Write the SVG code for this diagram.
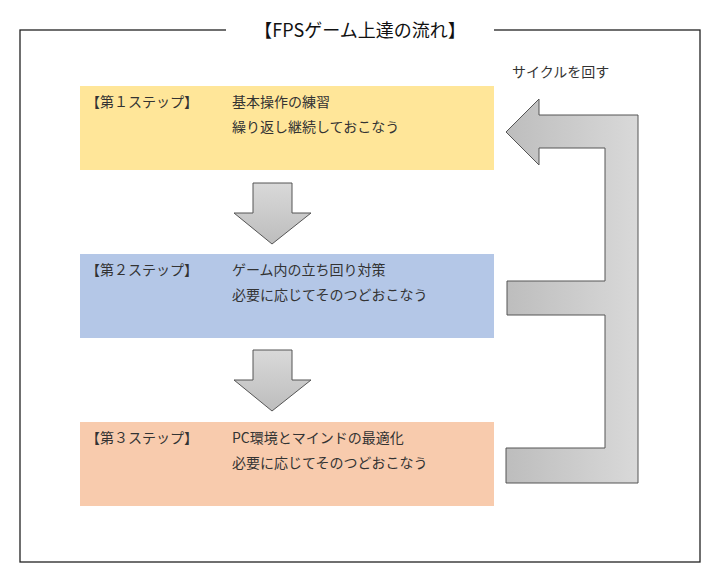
<svg xmlns="http://www.w3.org/2000/svg" width="720" height="580" viewBox="0 0 720 580">
<defs>
<linearGradient id="gv" x1="0" y1="0" x2="0" y2="1"><stop offset="0" stop-color="#d9d9d9"/><stop offset="1" stop-color="#bdbdbd"/></linearGradient>
<linearGradient id="gh" x1="0" y1="0" x2="1" y2="0"><stop offset="0" stop-color="#bdbdbd"/><stop offset="1" stop-color="#d9d9d9"/></linearGradient>
<style>
text{font-family:"Noto Sans CJK JP","Liberation Sans",sans-serif;fill:#333;font-size:14px}
.ar{fill:url(#gv);stroke:#555;stroke-width:1}
</style>
</defs>
<rect width="720" height="580" fill="#fff"/>
<rect x="20" y="30" width="680" height="532" fill="none" stroke="#222" stroke-width="1.3"/>
<rect x="226" y="20" width="268" height="22" fill="#fff"/>
<text x="360" y="37" text-anchor="middle" style="font-size:18px;fill:#111">【FPSゲーム上達の流れ】</text>
<g id="step1"><rect x="80" y="86" width="414" height="84" fill="#ffe699"/>
<text x="86" y="107">【第１ステップ】</text><text x="232" y="107">基本操作の練習</text><text x="232" y="132">繰り返し継続しておこなう</text></g>
<g id="step2"><rect x="80" y="254" width="414" height="84" fill="#b4c7e7"/>
<text x="86" y="275">【第２ステップ】</text><text x="232" y="275">ゲーム内の立ち回り対策</text><text x="232" y="300">必要に応じてそのつどおこなう</text></g>
<g id="step3"><rect x="80" y="422" width="414" height="84" fill="#f8cbad"/>
<text x="86" y="443">【第３ステップ】</text><text x="232" y="443">PC環境とマインドの最適化</text><text x="232" y="468">必要に応じてそのつどおこなう</text></g>
<g id="connectors">
<path class="ar" d="M253,183 H292 V213 H311 L272,244 L234,213 H253 Z"/>
<path class="ar" d="M253,350 H292 V380 H311 L272,411 L234,380 H253 Z"/>
<path d="M506,132 L539,99 V115 H638 V483 H506 V448 H605 V315 H507 V281 H605 V148 H539 V165 Z" fill="url(#gh)" stroke="#555" stroke-width="1"/>
</g>
<text x="512" y="77">サイクルを回す</text>
</svg>
